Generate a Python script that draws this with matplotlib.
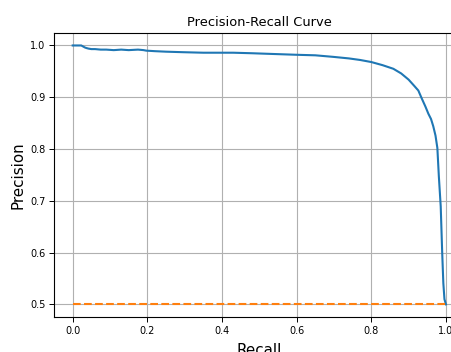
import numpy as np
import matplotlib
matplotlib.use("Agg")
import matplotlib.pyplot as plt

# precision-recall points
recall = [0.0, 0.012, 0.023, 0.028, 0.033, 0.037, 0.042, 0.05, 0.06, 0.075, 0.09,
          0.11, 0.13, 0.15, 0.175, 0.19, 0.197, 0.22, 0.25, 0.296, 0.35, 0.43,
          0.48, 0.519, 0.56, 0.6, 0.65, 0.698, 0.74, 0.77, 0.8, 0.83, 0.859,
          0.88, 0.9, 0.915, 0.926, 0.935, 0.945, 0.953, 0.96, 0.966, 0.972,
          0.977, 0.981, 0.986, 0.99, 0.993, 0.996, 1.0]
precision = [1.0, 1.0, 1.0, 0.998, 0.996, 0.995, 0.994, 0.993, 0.993, 0.992, 0.992,
             0.991, 0.992, 0.991, 0.992, 0.991, 0.990, 0.989, 0.988, 0.987, 0.986, 0.986,
             0.985, 0.984, 0.983, 0.982, 0.981, 0.978, 0.975, 0.972, 0.968, 0.962, 0.955,
             0.946, 0.934, 0.922, 0.913, 0.898, 0.882, 0.868, 0.858, 0.844, 0.826,
             0.802, 0.747, 0.689, 0.599, 0.541, 0.51, 0.5]
baseline_recall = [0.0, 1.0]
baseline_precision = [0.5, 0.5]

fig = plt.figure(figsize=(4.52, 3.52), dpi=100)
ax = fig.add_axes([0.1195, 0.0986, 0.9084, 0.809])

ax.plot(recall, precision, color="#1f77b4", linewidth=1.5)
ax.plot(baseline_recall, baseline_precision, color="#ff7f0e", linestyle="--", linewidth=1.5)

ax.set_title("Precision-Recall Curve", fontsize=9.4, pad=4.7)
ax.set_xlabel("Recall", fontsize=10.9, labelpad=5)
ax.set_ylabel("Precision", fontsize=10.9, labelpad=3)
ax.set_xticks([0.0, 0.2, 0.4, 0.6, 0.8, 1.0])
ax.set_yticks([0.5, 0.6, 0.7, 0.8, 0.9, 1.0])
ax.tick_params(labelsize=7, pad=2.7, length=3.5, width=0.7)
ax.grid(True, color="#b0b0b0", linewidth=0.8)
for s in ax.spines.values():
    s.set_linewidth(0.8)

fig.savefig("out.png", dpi=100)
